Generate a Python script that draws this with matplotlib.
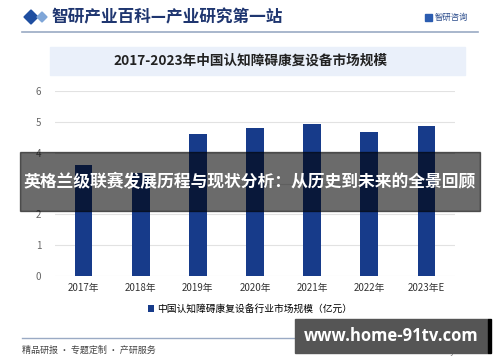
import matplotlib.pyplot as plt
from matplotlib.patches import Rectangle, Polygon

plt.rcParams['font.family'] = ['Noto Sans CJK SC', 'DejaVu Sans']

years = ['2017年', '2018年', '2019年', '2020年', '2021年', '2022年', '2023年E']
market_size = [3.6, 3.35, 4.6, 4.8, 4.94, 4.67, 4.87]
legend_label = '中国认知障碍康复设备行业市场规模（亿元）'
chart_title = '2017-2023年中国认知障碍康复设备市场规模'
header = '智研产业百科—产业研究第一站'
banner = '英格兰级联赛发展历程与现状分析：从历史到未来的全景回顾'

W, H = 500, 362
bar_color = '#173b8a'


def fx(x):
    return x / W


def fy(y):
    return 1 - y / H


fig = plt.figure(figsize=(5, 3.62), dpi=100)
fig.patch.set_facecolor('white')

# header
fig.patches.append(Polygon([[fx(24), fy(17)], [fx(31), fy(10)], [fx(38), fy(17)], [fx(31), fy(24)]],
                           closed=True, transform=fig.transFigure, color='#1e4ea0'))
fig.patches.append(Polygon([[fx(37), fy(17)], [fx(42), fy(12)], [fx(47), fy(17)], [fx(42), fy(22)]],
                           closed=True, transform=fig.transFigure, color='#7fa6d8'))
fig.text(fx(51), fy(17), header, fontsize=12, color='#1f3670', va='center', ha='left', fontweight='bold')
fig.patches.append(Rectangle((fx(425), fy(21)), fx(7), 7.5 / H, transform=fig.transFigure, color='#2b5cb0'))
fig.text(fx(435), fy(17), '智研咨询', fontsize=6, color='#2b4c8c', va='center', ha='left')
fig.add_artist(plt.Line2D([fx(22), fx(478)], [fy(32), fy(32)], color='#9aaac4', lw=1.2))

# title box
fig.patches.append(Rectangle((fx(50), fy(75)), fx(415), 28 / H, transform=fig.transFigure,
                             color='#eaf0fa'))
fig.text(0.5, fy(61), chart_title, fontsize=9.8, color='#222222', ha='center', va='center', fontweight='bold')

# chart
ax = fig.add_axes([fx(55), fy(276), fx(400), (276 - 91) / H])
ax.bar(range(len(years)), market_size, width=0.31, color=bar_color, label=legend_label, zorder=3)
ax.set_xlim(-0.5, len(years) - 0.5)
ax.set_ylim(0, 6)
ax.set_yticks(range(7))
ax.set_xticks(range(len(years)))
ax.set_xticklabels(years)
ax.grid(axis='y', color='#e2e2e2', lw=0.8, zorder=0)
for s in ax.spines.values():
    s.set_visible(False)
ax.tick_params(axis='y', length=0, labelsize=7, labelcolor='#666666', pad=10)
ax.tick_params(axis='x', length=0, labelsize=7, labelcolor='#333333', pad=5)
ax.legend(loc='center', bbox_to_anchor=(0.5, fy(309)), bbox_transform=fig.transFigure,
          frameon=False, fontsize=7, handlelength=0.7, handleheight=0.7, handletextpad=0.3)

# footer
fig.add_artist(plt.Line2D([fx(22), fx(478)], [fy(338), fy(338)], color='#9aaac4', lw=1.0))
fig.text(fx(22), fy(350), '精品研报 · 专题定制 · 产研服务', fontsize=6.5, color='#444444', va='center', ha='left')
fig.text(fx(478), fy(352), 'www.chyxx.com', fontsize=5, color='#555555', va='center', ha='right')

# overlay banners
fig.patches.append(Rectangle((fx(20), fy(211)), fx(460), 59 / H, transform=fig.transFigure,
                             color='black', alpha=0.58, zorder=10))
fig.text(0.5, fy(182), banner, fontsize=12.1, color='white', ha='center', va='center',
         fontweight='bold', zorder=11)
fig.patches.append(Rectangle((fx(295), fy(353)), fx(193), 34 / H, transform=fig.transFigure,
                             color='#555555', zorder=10))
fig.patches.append(Rectangle((fx(488), fy(353)), fx(3), 34 / H, transform=fig.transFigure,
                             color='black', zorder=10))
fig.text(fx(391), fy(336), 'www.home-91tv.com', fontsize=12, color='white', ha='center', va='center',
         fontweight='bold', zorder=11, family=['Open Sans', 'DejaVu Sans'])

fig.savefig('out.png', dpi=100)
